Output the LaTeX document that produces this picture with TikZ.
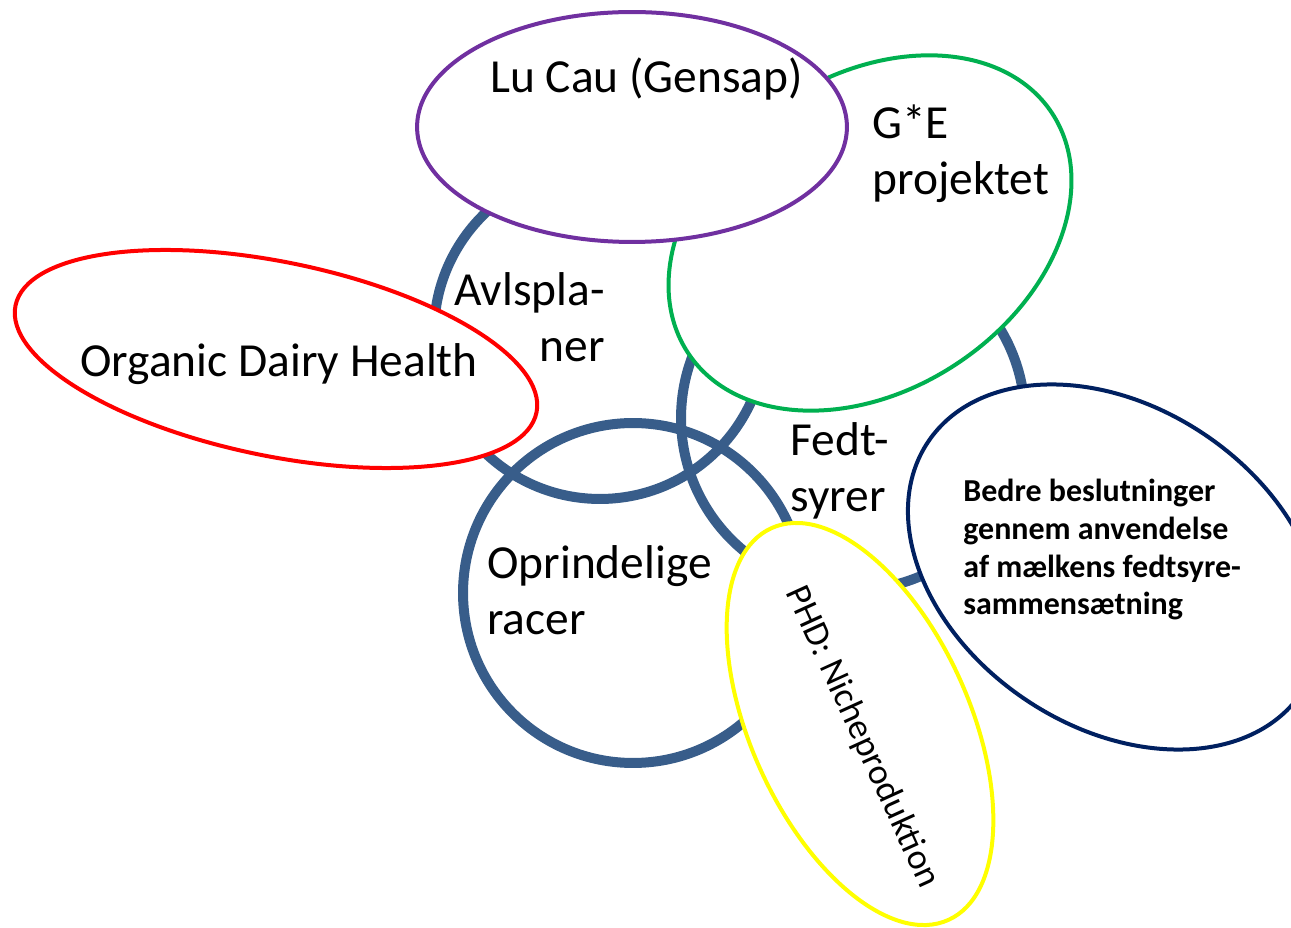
\documentclass[tikz,border=0pt]{standalone}
\usepackage{fontspec}
\setmainfont{Carlito}
\usetikzlibrary{shapes.geometric}
\definecolor{ringblue}{HTML}{385D8A}
\definecolor{lupurple}{HTML}{7030A0}
\definecolor{gegreen}{HTML}{00B050}
\definecolor{bedrenavy}{HTML}{002060}
\definecolor{phdyellow}{HTML}{FFFF00}
\tikzset{
  ring/.style={circle,draw=ringblue,line width=0.2cm,inner sep=0pt},
  oval/.style={ellipse,draw,fill=white,line width=0.08cm,inner sep=0pt},
  bigtext/.style={inner sep=0pt,font=\fontsize{27pt}{32.4pt}\selectfont},
  boldtext/.style={inner sep=0pt,font=\fontsize{18.2pt}{21.6pt}\selectfont\bfseries}
}
\begin{document}
\begin{tikzpicture}[x=0.02cm,y=-0.02cm]
\useasboundingbox (0,0) rectangle (1291,928);

%rings
\node[ring,minimum size=6.64cm](avl) at (600,333) {};
\node[ring,minimum size=6.88cm](fedt) at (853,418) {};
\node[ring,minimum size=6.8cm](opr) at (633,593) {};

%ovals
\node[oval,draw=red,minimum width=10.64cm,minimum height=3.88cm,rotate=-11.6](odh) at (276,359) {};
\node[oval,draw=gegreen,minimum width=8.72cm,minimum height=6.28cm,rotate=33.4](ge) at (870,233) {};
\node[oval,draw=lupurple,minimum width=8.6cm,minimum height=4.6cm](lucau) at (632,127) {};
\node[oval,draw=bedrenavy,minimum width=9cm,minimum height=6.4cm,rotate=-33.8](bedre) at (1115,567) {};
\node[oval,draw=phdyellow,minimum width=8.6cm,minimum height=4.38cm,rotate=-65.7](phd) at (860,724) {};

%labels (base = last line)
\node[bigtext,anchor=base east,align=right](avltxt) at (605,362) {Avlspla-\\ner};
\node[bigtext,anchor=base west,align=left](fedttxt) at (790,512) {Fedt-\\syrer};
\node[bigtext,anchor=base west,align=left](oprtxt) at (487,635) {Oprindelige\\racer};
\node[bigtext,anchor=base west](odhtxt) at (80,377) {Organic Dairy Health};
\node[bigtext,anchor=base west](lucautxt) at (490,93) {Lu Cau (Gensap)};
\node[bigtext,anchor=base west,align=left](getxt) at (872,195) {G*E\\projektet};
\node[boldtext,anchor=base west,align=left](bedretxt) at (963,615) {Bedre beslutninger\\gennem anvendelse\\af mælkens fedtsyre-\\sammensætning};
\node[inner sep=0pt,font=\fontsize{20.5pt}{24pt}\selectfont,rotate=-65.5](phdtxt) at (862,737) {PHD: Nicheproduktion};
\end{tikzpicture}
\end{document}
